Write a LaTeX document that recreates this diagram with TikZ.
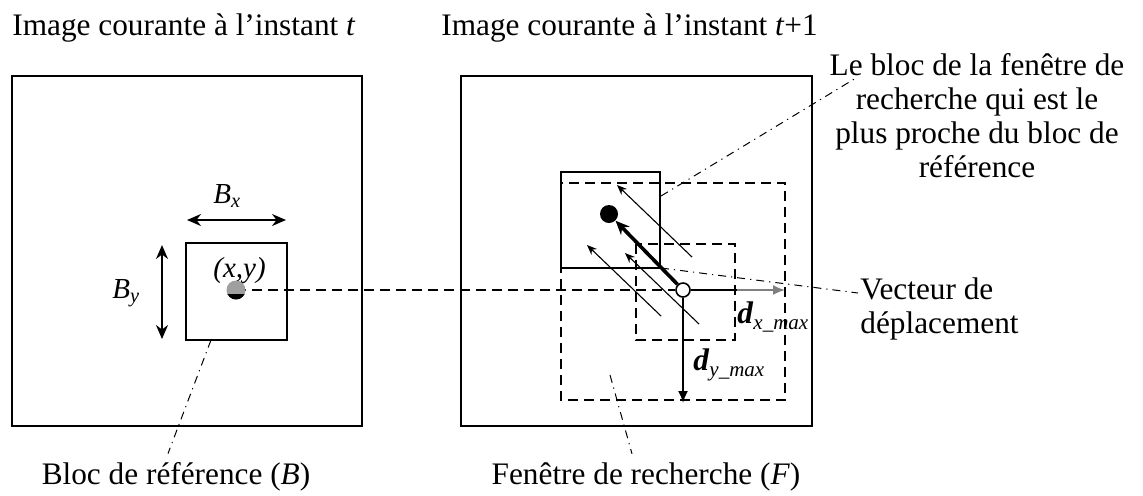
\documentclass[tikz,border=0pt]{standalone}
\usepackage{fontspec}
\setmainfont{Liberation Serif}
\usepackage{tikz}
\usetikzlibrary{arrows.meta}
\usetikzlibrary{positioning}
\usetikzlibrary{calc}
\tikzset{
  cadre/.style = {draw=black, line width=1pt},% image entiere
  bloc/.style = {draw=black, line width=0.9pt},% bloc de pixels
  fen/.style = {draw=black, line width=0.8pt, dash pattern=on 5pt off 3pt},% fenetre, pointilles
  guide/.style = {line width=0.5pt, dash pattern=on 4pt off 2.5pt on 0.6pt off 2.5pt},% trait de legende
  legende/.style = {font=\fontsize{15.65}{17}\selectfont, inner sep=0pt},
  cote/.style = {font=\fontsize{14.5}{16}\selectfont, inner sep=0pt},
  fleche_fine/.style = {-{Stealth[length=5pt,width=4pt]}, line width=0.55pt},
  fleche_dbl/.style = {{Stealth[length=7pt,width=6pt]}-{Stealth[length=7pt,width=6pt]}, line width=0.9pt}
}

\begin{document}
\begin{tikzpicture}[x=0.5pt,y=-0.5pt]
\useasboundingbox (0,0) rectangle (1143,495);

% les deux images
\draw[cadre] (12,76) rectangle (362,426);
\draw[cadre] (461,76) rectangle (812,426);
\node[legende, anchor=base west] (titre_t) at (12,35) {Image courante à l’instant \textit{t}};
\node[legende, anchor=base west] (titre_t1) at (441,35) {Image courante à l’instant \textit{t}+1};

% bloc de reference
\draw[bloc] (186,243) rectangle (287,340);
\coordinate (bx_g) at (187,220);
\coordinate (bx_d) at (286,220);
\coordinate (by_h) at (162,245);
\coordinate (by_b) at (162,339);
\draw[fleche_dbl] (bx_g) -- (bx_d);
\draw[fleche_dbl] (by_h) -- (by_b);
\node[cote, anchor=base west] (lbl_bx) at (213,203) {\textit{B}\textsubscript{\textit{x}}};
\node[cote, anchor=base west] (lbl_by) at (112,298) {\textit{B}\textsubscript{\textit{y}}};
\node[cote, anchor=base west] (lbl_xy) at (213,277) {\textit{(x,y)}};

% fenetres de recherche
\draw[fen] (561,183) rectangle (785,400);
\draw[fen] (636,244) rectangle (735,340);
\draw[bloc] (561,172) rectangle (660,268);

% centre et meilleur bloc
\coordinate (pt_ref) at (236,290);
\node[circle, draw, line width=0.8pt, minimum size=7pt, inner sep=0pt] (centre) at (683,290) {};
\node[circle, fill=black, minimum size=9pt, inner sep=0pt] (meilleur) at (609,214) {};
\draw[fen] (pt_ref) -- (centre.west);
\fill[gray!75] (pt_ref) circle (4.75pt);
\fill[black] ([shift={(-155:4.75pt)}]pt_ref) arc (-155:-25:4.75pt) -- cycle;

% deplacements max
\coordinate (dx_mil) at (737,290);
\coordinate (dx_bout) at (785,290);
\coordinate (dy_bout) at (683,403);
\draw[line width=0.9pt] (centre.east) -- (dx_mil);
\draw[gray, line width=0.9pt, -{Latex[length=6pt,width=5pt]}] (dx_mil) -- (dx_bout);
\draw[line width=0.9pt, -{Latex[length=6pt,width=5pt]}] (centre.south) -- (dy_bout);
\node[legende, anchor=base west] (lbl_dx) at (737,323) {\textbf{\textit{d}}{\fontsize{10.5}{12}\selectfont\raisebox{-3pt}{\textit{x\_max}}}};
\node[legende, anchor=base west] (lbl_dy) at (693,370) {\textbf{\textit{d}}{\fontsize{10.5}{12}\selectfont\raisebox{-3pt}{\textit{y\_max}}}};

% vecteurs candidats
\coordinate (c1_a) at (692,257); \coordinate (c1_b) at (617,185);
\coordinate (c2_a) at (661,316); \coordinate (c2_b) at (587,245);
\coordinate (c3_a) at (699,324); \coordinate (c3_b) at (625,253);
\draw[fleche_fine] (c1_a) -- (c1_b);
\draw[fleche_fine] (c2_a) -- (c2_b);
\draw[fleche_fine] (c3_a) -- (c3_b);
\draw[line width=1.8pt, -{Stealth[length=7pt,width=6pt]}] (centre) -- (meilleur);

% legendes
\node[legende, align=center, anchor=north] (proche) at (977,53)
  {Le bloc de la fenêtre de\\recherche qui est le\\plus proche du bloc de\\référence};
\node[legende, align=left, anchor=north west] (vect) at (860,277)
  {Vecteur de\\déplacement};
\node[legende, anchor=base] (txt_bloc) at (176,484) {Bloc de référence (\textit{B})};
\node[legende, anchor=base] (txt_fen) at (646,484) {Fenêtre de recherche (\textit{F})};

\coordinate (g1_a) at (661,196);
\coordinate (g2_a) at (661,268);
\coordinate (g3_a) at (610,375);
\coordinate (g4_a) at (211,340);
\draw[guide] (g1_a) -- ([xshift=12.5pt,yshift=-13pt]proche.north west);
\draw[guide] (g2_a) -- ([xshift=-1pt,yshift=-8pt]vect.north west);
\draw[guide] (g3_a) -- ([yshift=4pt]txt_fen.north -| 632,0);
\draw[guide] (g4_a) -- ([yshift=4pt]txt_bloc.north -| 168,0);
\end{tikzpicture}
\end{document}
